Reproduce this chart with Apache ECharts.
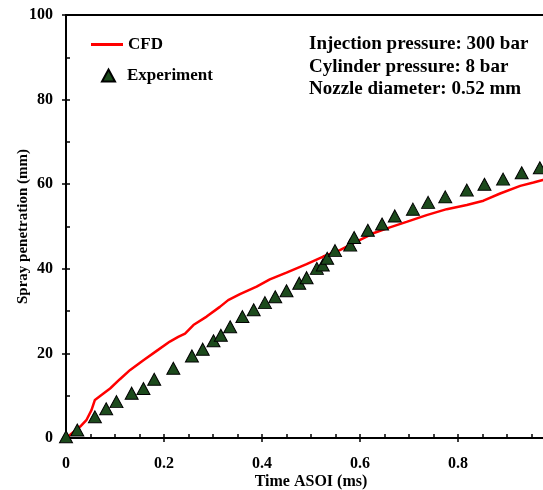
<!DOCTYPE html>
<html>
<head>
<meta charset="utf-8">
<script src="https://cdn.jsdelivr.net/npm/echarts@6/dist/echarts.min.js"></script>
<style>
html,body{margin:0;padding:0;background:#fff;}
#chart{width:543px;height:490px;}
</style>
</head>
<body>
<div id="chart"></div>
<script>
// CFD simulation: [time (ms), penetration (mm)]
var cfdTime = [0, 0.008, 0.029, 0.042, 0.052, 0.059, 0.073, 0.090, 0.110, 0.131, 0.158, 0.185, 0.212, 0.229, 0.243, 0.260, 0.287, 0.314, 0.331, 0.355, 0.389, 0.416, 0.450, 0.491, 0.525, 0.559, 0.593, 0.627, 0.661, 0.695, 0.736, 0.777, 0.818, 0.852, 0.886, 0.927, 0.954, 0.973, 1.0];
var cfdPen  = [0, 0.7, 2.7, 4.3, 6.6, 9.0, 10.2, 11.7, 13.9, 16.1, 18.4, 20.6, 22.8, 23.9, 24.7, 26.7, 28.7, 31.0, 32.6, 34.0, 35.8, 37.5, 39.1, 41.1, 42.9, 44.4, 46.4, 48.4, 49.8, 51.1, 52.7, 54.1, 55.1, 56.1, 57.8, 59.6, 60.4, 61.0, 61.6];

// Experiment: [time (ms), penetration (mm)]
var expTime = [0, 0.023, 0.059, 0.082, 0.103, 0.134, 0.158, 0.180, 0.219, 0.257, 0.279, 0.301, 0.316, 0.335, 0.360, 0.383, 0.406, 0.427, 0.450, 0.476, 0.491, 0.512, 0.524, 0.533, 0.549, 0.580, 0.588, 0.616, 0.645, 0.671, 0.708, 0.739, 0.774, 0.818, 0.854, 0.892, 0.930, 0.967];
var expPen  = [0.3, 1.9, 5.0, 6.9, 8.6, 10.6, 11.7, 13.9, 16.5, 19.4, 21.0, 23.0, 24.3, 26.3, 28.7, 30.3, 32.0, 33.4, 34.8, 36.6, 37.9, 40.1, 40.9, 42.5, 44.3, 45.6, 47.4, 49.1, 50.6, 52.5, 54.1, 55.7, 57.0, 58.6, 60.0, 61.2, 62.7, 63.9];

var annotationLines = ['Injection pressure: 300 bar', 'Cylinder pressure: 8 bar', 'Nozzle diameter: 0.52 mm'];

var FONT = 'Liberation Serif';
var chart = echarts.init(document.getElementById('chart'), null, {renderer: 'canvas'});

function pairs(xs, ys) { return xs.map(function (x, i) { return [x, ys[i]]; }); }

var legendText = {fontFamily: FONT, fontWeight: 'bold', fontSize: 17, color: '#000'};

var option = {
  backgroundColor: '#fff',
  animation: false,
  textStyle: {fontFamily: FONT, fontWeight: 'bold', color: '#000'},
  grid: {left: 66, top: 15, right: -13, bottom: 52, outerBoundsMode: 'none', containLabel: false,
         show: true, borderColor: '#000', borderWidth: 2, backgroundColor: 'transparent'},
  legend: [{
    left: 86, top: 31, itemWidth: 32, itemHeight: 3, icon: 'rect',
    textStyle: legendText, data: ['CFD']
  }, {
    left: 96, top: 62, itemWidth: 13, itemHeight: 12, icon: 'triangle',
    textStyle: Object.assign({}, legendText, {padding: [0, 0, 0, 7]}), data: ['Experiment']
  }],
  xAxis: [{
    type: 'value', min: 0, max: 1, interval: 0.2, position: 'bottom',
    name: 'Time ASOI (ms)', nameLocation: 'middle', nameGap: 36, nameMoveOverlap: false,
    nameTextStyle: {fontFamily: FONT, fontWeight: 'bold', fontSize: 16, color: '#000'},
    axisLine: {show: true, lineStyle: {color: '#000', width: 2}},
    axisTick: {show: true, inside: true, length: 4, lineStyle: {color: '#000', width: 1.5}},
    minorTick: {show: true, splitNumber: 4, length: 4, lineStyle: {color: '#000', width: 1.5}},
    axisLabel: {fontFamily: FONT, fontWeight: 'bold', fontSize: 16, color: '#000', margin: 18},
    splitLine: {show: false}
  }, {
    type: 'value', min: 0, max: 1, interval: 0.2, position: 'bottom', offset: 0,
    axisLine: {show: false},
    axisTick: {show: true, inside: false, length: 4, lineStyle: {color: '#000', width: 1.5}},
    axisLabel: {show: false}, splitLine: {show: false}
  }],
  yAxis: [{
    type: 'value', min: 0, max: 100, interval: 20, position: 'left',
    name: 'Spray penetration (mm)', nameLocation: 'middle', nameGap: 35, nameMoveOverlap: false,
    nameTextStyle: {fontFamily: FONT, fontWeight: 'bold', fontSize: 15, color: '#000'},
    axisLine: {show: true, lineStyle: {color: '#000', width: 2}},
    axisTick: {show: true, inside: true, length: 4, lineStyle: {color: '#000', width: 1.5}},
    minorTick: {show: true, splitNumber: 2, length: 4, lineStyle: {color: '#000', width: 1.5}},
    axisLabel: {fontFamily: FONT, fontWeight: 'bold', fontSize: 16, color: '#000', margin: 13},
    splitLine: {show: false}
  }, {
    type: 'value', min: 0, max: 100, interval: 20, position: 'left', offset: 0,
    axisLine: {show: false},
    axisTick: {show: true, inside: false, length: 4, lineStyle: {color: '#000', width: 1.5}},
    axisLabel: {show: false}, splitLine: {show: false}
  }],
  graphic: [{
    type: 'text', left: 309, top: 33,
    style: {text: annotationLines.join('\n'), font: 'bold 19px "Liberation Serif"', fill: '#000', lineHeight: 22.5}
  }],
  series: [{
    name: 'CFD', type: 'line', xAxisIndex: 0, yAxisIndex: 0,
    data: pairs(cfdTime, cfdPen), showSymbol: false, symbol: 'none',
    lineStyle: {color: '#ff0000', width: 2.5}, itemStyle: {color: '#ff0000'}, z: 2
  }, {
    name: 'Experiment', type: 'scatter', xAxisIndex: 0, yAxisIndex: 0,
    data: pairs(expTime, expPen), symbol: 'triangle', symbolSize: [13, 12],
    itemStyle: {color: '#1c4a1c', borderColor: '#000', borderWidth: 1, opacity: 1}, z: 3
  }]
};
chart.setOption(option);
</script>
</body>
</html>
